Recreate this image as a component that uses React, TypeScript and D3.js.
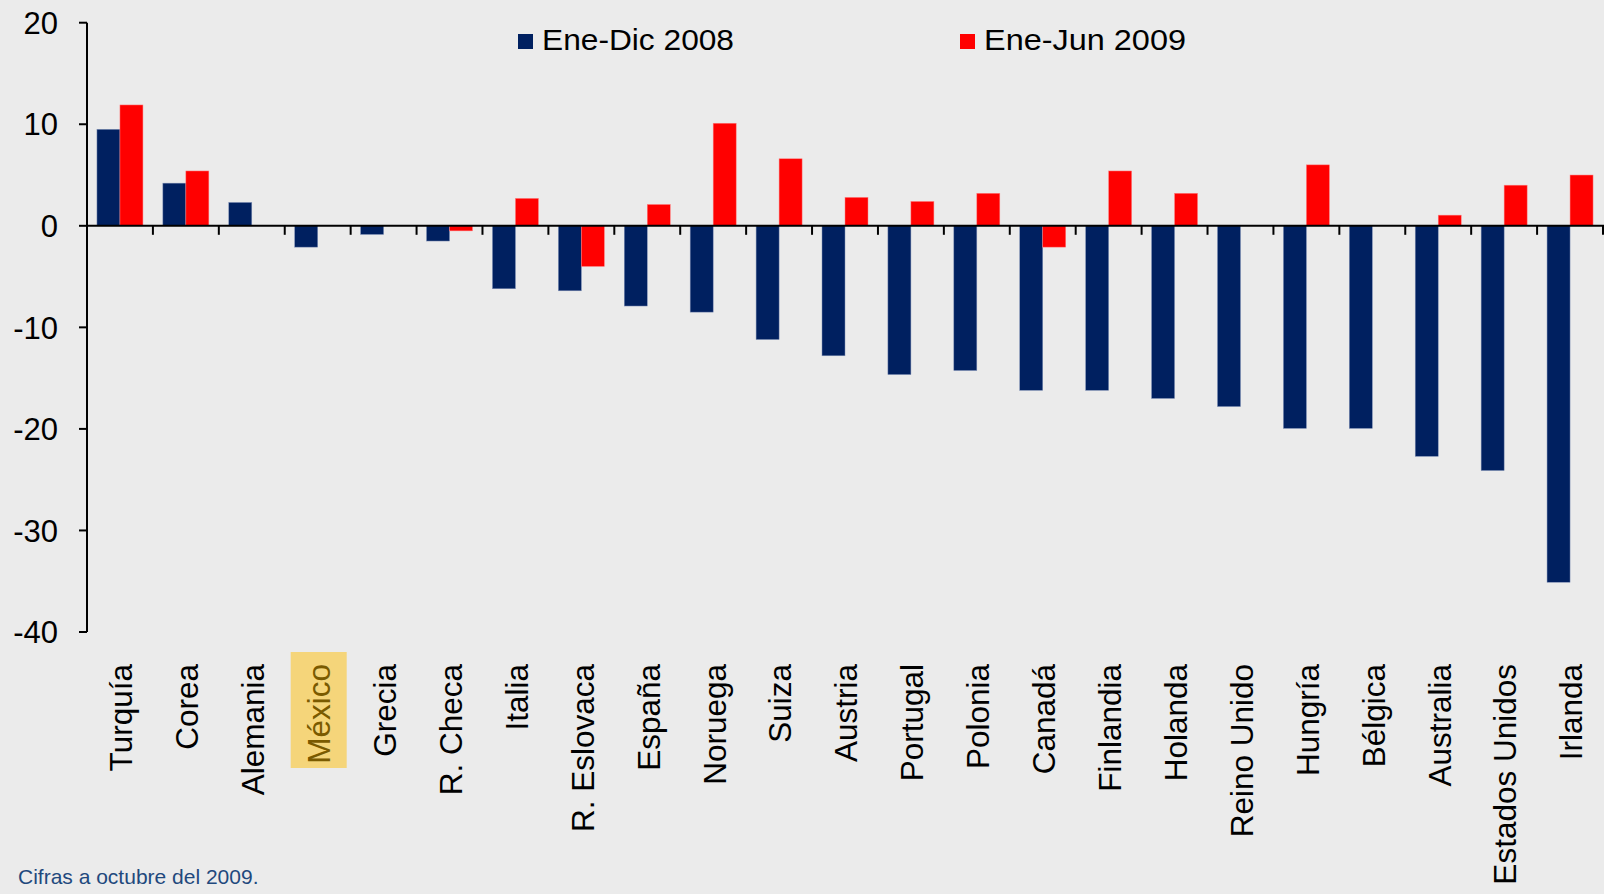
import React from "react";
import * as d3 from "d3";

const categories = [
  "Turquía", "Corea", "Alemania", "México", "Grecia", "R. Checa", "Italia",
  "R. Eslovaca", "España", "Noruega", "Suiza", "Austria", "Portugal", "Polonia",
  "Canadá", "Finlandia", "Holanda", "Reino Unido", "Hungría", "Bélgica",
  "Australia", "Estados Unidos", "Irlanda",
];

const series2008: (number | null)[] = [
  9.5, 4.2, 2.3, -2.1, -0.85, -1.5, -6.2, -6.4, -7.9, -8.5, -11.2, -12.8,
  -14.65, -14.25, -16.2, -16.2, -17.0, -17.8, -19.95, -19.95, -22.7, -24.1, -35.1,
];

const series2009: (number | null)[] = [
  11.9, 5.4, null, null, null, -0.5, 2.7, -4.0, 2.1, 10.1, 6.6, 2.8,
  2.4, 3.2, -2.1, 5.4, 3.2, null, 6.0, null, 1.05, 4.0, 5.0,
];

const seriesNames = ["Ene-Dic 2008", "Ene-Jun 2009"];
const seriesColors = ["#002060", "#FF0000"];
const yTicks = [20, 10, 0, -10, -20, -30, -40];
const highlight = "México";
const footnote = "Cifras a octubre del 2009.";

const W = 1604;
const H = 894;
const FONT = "'Liberation Sans', Arial, Helvetica, sans-serif";

export default function App() {
  const y = d3.scaleLinear().domain([-40, 20]).range([632, 22.7]);
  const x = d3.scaleBand<string>().domain(categories).range([87, 1603]).padding(0);
  const inner = d3
    .scaleBand<string>()
    .domain(["a", "b"])
    .range([0, x.step()])
    .paddingInner(0)
    .paddingOuter(0.433);
  const y0 = y(0);
  const allSeries = [series2008, series2009];
  const keys = ["a", "b"];

  return (
    <div style={{ position: "fixed", left: 0, top: 0, width: W, height: H, background: "#EBEBEB" }}>
      <svg width={W} height={H} style={{ display: "block" }} fontFamily={FONT}>
        <rect x={0} y={0} width={W} height={H} fill="#EBEBEB" />

        {/* bars */}
        {allSeries.map((s, si) =>
          s.map((v, i) => {
            if (v === null) return null;
            const bx = (x(categories[i]) as number) + (inner(keys[si]) as number);
            const top = Math.min(y(v), y0);
            const h = Math.abs(y(v) - y0);
            return (
              <rect
                key={`${si}-${i}`}
                x={bx}
                y={top}
                width={inner.bandwidth()}
                height={h}
                fill={seriesColors[si]}
                stroke={si === 0 ? "#7f8fb5" : "#ff8080"}
                strokeWidth={0.5}
              />
            );
          })
        )}

        {/* y axis */}
        <line x1={87} x2={87} y1={y(20)} y2={y(-40)} stroke="#000" strokeWidth={2} />
        {yTicks.map((t) => (
          <g key={t}>
            <line x1={79} x2={87} y1={y(t)} y2={y(t)} stroke="#000" strokeWidth={2} />
            <text x={58} y={y(t)} dy="0.36em" textAnchor="end" fontSize={31} fill="#000">
              {t}
            </text>
          </g>
        ))}

        {/* x axis at zero */}
        <line x1={86} x2={1604} y1={y0} y2={y0} stroke="#000" strokeWidth={2} />
        {categories.map((c) => {
          const xr = (x(c) as number) + x.step();
          return <line key={"t" + c} x1={xr} x2={xr} y1={y0} y2={y0 + 9} stroke="#000" strokeWidth={2} />;
        })}

        {/* category labels */}
        {categories.map((c) => {
          const cx = (x(c) as number) + x.step() / 2;
          const isHi = c === highlight;
          return (
            <g key={"l" + c}>
              {isHi && <rect x={cx - 27} y={652} width={56} height={116} fill="#F5D57A" />}
              <text
                transform={`translate(${cx + 1},664) rotate(-90)`}
                dy="0.36em"
                textAnchor="end"
                fontSize={31.5}
                fill={isHi ? "#7A5A00" : "#000"}
              >
                {c}
              </text>
            </g>
          );
        })}

        {/* legend */}
        {seriesNames.map((n, i) => {
          const lx = i === 0 ? 518 : 960;
          return (
            <g key={n}>
              <rect x={lx} y={34} width={15} height={15} fill={seriesColors[i]} />
              <text
                x={lx + 24}
                y={50}
                fontSize={29}
                fill="#000"
                textLength={i === 0 ? 192 : 202}
                lengthAdjust="spacingAndGlyphs"
              >
                {n}
              </text>
            </g>
          );
        })}

        {/* footnote */}
        <text x={18} y={884} fontSize={21} fill="#1F497D">
          {footnote}
        </text>
      </svg>
    </div>
  );
}
